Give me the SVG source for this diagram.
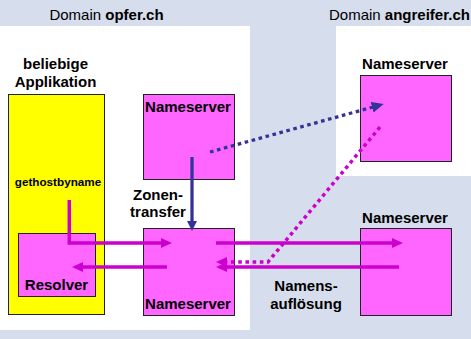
<svg xmlns="http://www.w3.org/2000/svg" width="471" height="339" viewBox="0 0 471 339">
  <defs>
    <style>
      text { font-family: "Liberation Sans", Arial, sans-serif; fill: #000; }
      .dom { font-size: 15px; }
      .b { font-weight: bold; font-size: 15px; }
      .small { font-weight: bold; font-size: 11.7px; }
      .ns { fill: #FF66FF; stroke: #222; stroke-width: 1; }
      .app { fill: #FFFF00; stroke: #222; stroke-width: 1; }
      .mag { fill: none; stroke: #CC00CC; stroke-width: 3.5; }
      .blue { fill: none; stroke: #333399; stroke-width: 3.3; }
      .dot { stroke-dasharray: 3.6 3.6; }
    </style>
    <marker id="ahMag" markerUnits="userSpaceOnUse" markerWidth="12" markerHeight="11" refX="3" refY="5" orient="auto">
      <path d="M0,0 L11,5 L0,10 z" fill="#CC00CC"/>
    </marker>
    <marker id="ahBlue" markerUnits="userSpaceOnUse" markerWidth="12" markerHeight="11" refX="3" refY="5" orient="auto">
      <path d="M0,0 L10,5 L0,10 z" fill="#333399"/>
    </marker>
    <marker id="ahBlueBig" markerUnits="userSpaceOnUse" markerWidth="14" markerHeight="12" refX="3" refY="5.5" orient="auto">
      <path d="M0,0 L12,5.5 L0,11 z" fill="#333399"/>
    </marker>
  </defs>

  <!-- background and domain areas -->
  <rect x="0" y="0" width="471" height="339" fill="#D6DDEC"/>
  <rect x="0" y="26" width="250" height="304" fill="#FFFFFF"/>
  <rect x="336" y="26" width="135" height="150" fill="#FFFFFF"/>
  <text class="dom" x="106.5" y="20" text-anchor="middle">Domain <tspan font-weight="bold">opfer.ch</tspan></text>
  <text class="dom" x="329" y="20">Domain <tspan font-weight="bold">angreifer.ch</tspan></text>

  <!-- application with resolver -->
  <g id="applikation">
    <text class="b" x="55.5" y="69" text-anchor="middle">beliebige</text>
    <text class="b" x="55.5" y="87" text-anchor="middle">Applikation</text>
    <rect class="app" x="8.5" y="94.5" width="96" height="220"/>
    <text class="small" x="58" y="186" text-anchor="middle">gethostbyname</text>
  </g>
  <g id="resolver">
    <rect class="ns" x="18.5" y="233.5" width="77" height="63"/>
    <text class="b" x="56.5" y="290" text-anchor="middle">Resolver</text>
  </g>

  <!-- name servers -->
  <g id="ns-opfer-primary">
    <rect class="ns" x="143.5" y="94.5" width="91" height="85"/>
    <text class="b" x="188" y="112" text-anchor="middle">Nameserver</text>
  </g>
  <g id="ns-opfer-local">
    <rect class="ns" x="143.5" y="228.5" width="91" height="87"/>
    <text class="b" x="188" y="308.5" text-anchor="middle">Nameserver</text>
  </g>
  <g id="ns-angreifer">
    <text class="b" x="405" y="68.5" text-anchor="middle">Nameserver</text>
    <rect class="ns" x="360.5" y="75.5" width="91" height="86"/>
  </g>
  <g id="ns-remote">
    <text class="b" x="405" y="223" text-anchor="middle">Nameserver</text>
    <rect class="ns" x="360.5" y="228.5" width="91" height="87"/>
  </g>

  <!-- labels on connectors -->
  <text class="b" x="158" y="199.5" text-anchor="middle">Zonen-</text>
  <text class="b" x="158" y="216.5" text-anchor="middle">transfer</text>
  <text class="b" x="306" y="291" text-anchor="middle">Namens-</text>
  <text class="b" x="306" y="308.5" text-anchor="middle">auflösung</text>

  <!-- connectors -->
  <g id="connectors">
    <path class="blue" d="M192,157 V224" marker-end="url(#ahBlue)"/>
    <path class="blue dot" stroke-width="3.6" d="M210,152 L375,106.5" marker-end="url(#ahBlueBig)"/>
    <path class="mag" d="M69.3,200 V243 H164" marker-end="url(#ahMag)"/>
    <path class="mag" d="M216,243 H395" marker-end="url(#ahMag)"/>
    <path class="mag" d="M399,267 H224" marker-end="url(#ahMag)"/>
    <path class="mag" d="M167,267 H80" marker-end="url(#ahMag)"/>
    <path class="mag dot" d="M380,127 L268,262 H224" marker-end="url(#ahMag)"/>
  </g>
</svg>
